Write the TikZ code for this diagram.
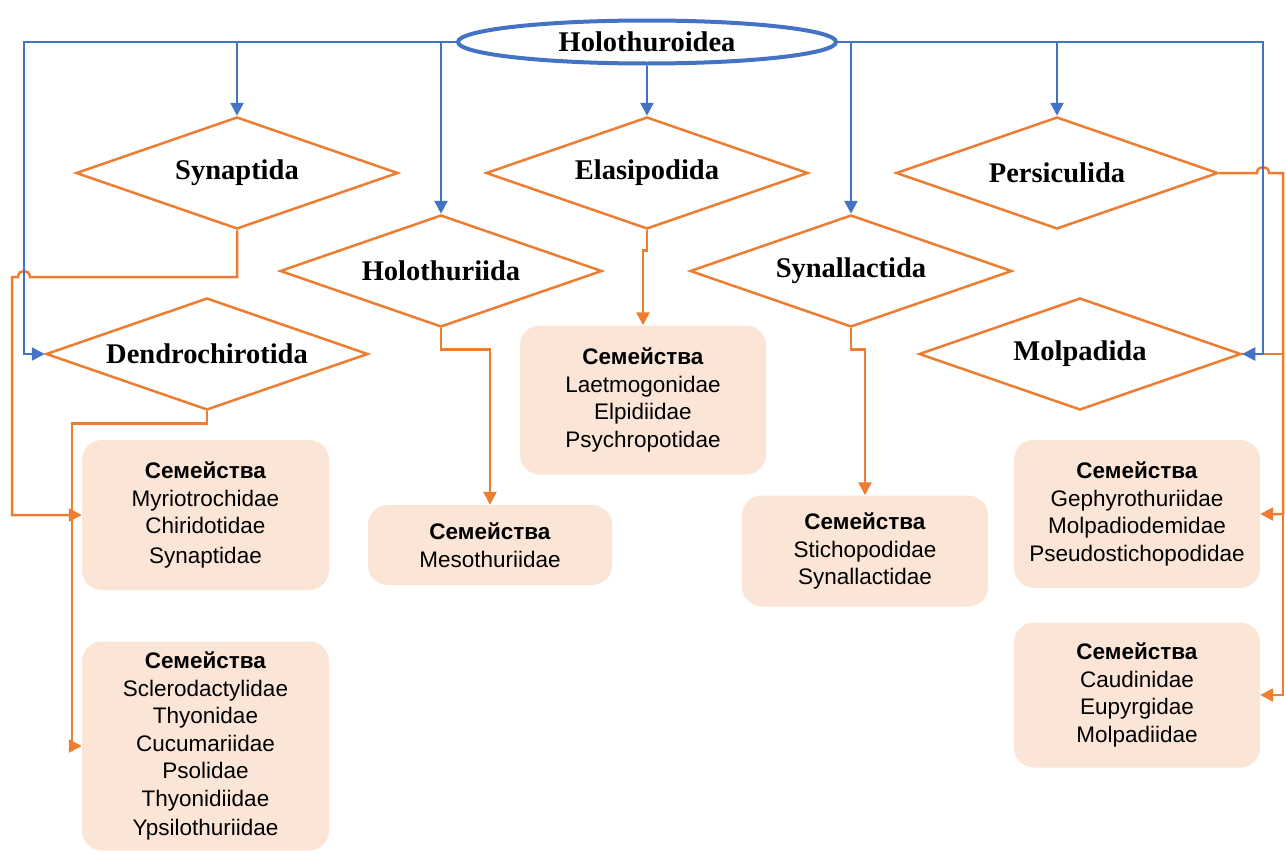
\documentclass[tikz,border=0pt]{standalone}
\usepackage{fontspec}
\setmainfont{Liberation Serif}
\newfontfamily\boxfont{Liberation Sans}
\usetikzlibrary{shapes.geometric,arrows.meta,calc}
\definecolor{cblue}{HTML}{4472C4}
\definecolor{corange}{HTML}{ED7D31}
\definecolor{cpeach}{HTML}{FBE5D6}
\tikzset{
  order/.style={diamond, draw=corange, line width=2.5pt, aspect=2.9, inner sep=0pt,
    minimum width=322pt, minimum height=112pt, font=\fontsize{28.5}{30}\selectfont\bfseries},
  fam/.style={rectangle, rounded corners=20pt, fill=cpeach, draw=none, align=center,
    font=\boxfont\fontsize{22.5}{27.5}\selectfont, inner sep=0pt},
  bl/.style={draw=cblue, line width=2.5pt, -{Triangle[length=13pt,width=13pt]}},
  orl/.style={draw=corange, line width=2.5pt, -{Triangle[length=13pt,width=13pt]}},
}
\begin{document}
\begin{tikzpicture}[x=1pt,y=-1pt]
\useasboundingbox (0,0) rectangle (1286,854);
\fill[white] (0,0) rectangle (1286,854);

% root
\node[ellipse, draw=cblue, line width=4pt, minimum width=378pt, minimum height=43pt, inner sep=0pt,
  font=\fontsize{28.5}{30}\selectfont\bfseries] (root) at (647,42) {Holothuroidea};

% orders
\node[order] (synap) at (237,173) {Synaptida};
\node[order] (elasi) at (647,173) {Elasipodida};
\node[order] (persic) at (1057,173) {Persiculida};
\node[order] (holo) at (441,271) {Holothuriida};
\node[order] (synall) at (851,271) {Synallactida};
\node[order] (dendro) at (207,354) {Dendrochirotida};
\node[order] (molpa) at (1080,354) {Molpadida};

% families
\node[fam, minimum width=247pt, minimum height=150pt] (famA) at (205.5,515)
  {\textbf{Семейства}\\Myriotrochidae\\Chiridotidae\\[2pt]Synaptidae};
\node[fam, minimum width=247pt, minimum height=209pt] (famB) at (205.5,746)
  {\textbf{Семейства}\\Sclerodactylidae\\Thyonidae\\Cucumariidae\\Psolidae\\Thyonidiidae\\[2pt]Ypsilothuriidae};
\node[fam, minimum width=244pt, minimum height=80pt] (famM) at (490,545)
  {\textbf{Семейства}\\Mesothuriidae};
\node[fam, minimum width=246pt, minimum height=149pt] (famE) at (643,400)
  {\textbf{Семейства}\\Laetmogonidae\\Elpidiidae\\Psychropotidae};
\node[fam, minimum width=246pt, minimum height=111pt] (famS) at (865,551)
  {\textbf{Семейства}\\Stichopodidae\\Synallactidae};
\node[fam, minimum width=246pt, minimum height=148pt] (famG) at (1137,514)
  {\textbf{Семейства}\\Gephyrothuriidae\\Molpadiodemidae\\Pseudostichopodidae};
\node[fam, minimum width=246pt, minimum height=145pt] (famC) at (1137,695)
  {\textbf{Семейства}\\Caudinidae\\Eupyrgidae\\Molpadiidae};

% helper coordinates
\coordinate (xL) at (12,0);
\coordinate (xL2) at (72,0);
\coordinate (xB) at (24,0);
\coordinate (xR) at (1263,0);
\coordinate (xO) at (1283,0);
\coordinate (hopA) at (30,277);
\coordinate (hopB) at (1257,173);

% orange connectors
\draw[orl] (synap.south) |- (hopA) .. controls (30,269) and (18,269) .. (18,277)
  -| (famA.west -| xL) -- (famA.west);
\draw[orl] (dendro.south) -- ++(0,12) -| (famB.west -| xL2) -- (famB.west);
\draw[orl] (holo.south) -- ++(0,21) -| (famM.north);
\draw[orl] (elasi.south) -- ++(0,20) -| (famE.north);
\draw[orl] (synall.south) -- ++(0,21) -| (famS.north);
\draw[orl] (persic.east) -- (hopB) .. controls (1257,165) and (1269,165) .. (1269,173)
  -| (famG.east -| xO) -- (famG.east);
\draw[orl] (molpa.east) -| (famC.east -| xO) -- (famC.east);

% blue connectors
\draw[bl] (root.west) -| (dendro.west -| xB) -- (dendro.west);
\draw[bl] (root.west -| synap.north) -- (synap.north);
\draw[bl] (root.west -| holo.north) -- (holo.north);
\draw[bl] (root.south) -- (elasi.north);
\draw[bl] (root.east -| synall.north) -- (synall.north);
\draw[bl] (root.east -| persic.north) -- (persic.north);
\draw[bl] (root.east) -| (molpa.east -| xR) -- (molpa.east);
\end{tikzpicture}
\end{document}
